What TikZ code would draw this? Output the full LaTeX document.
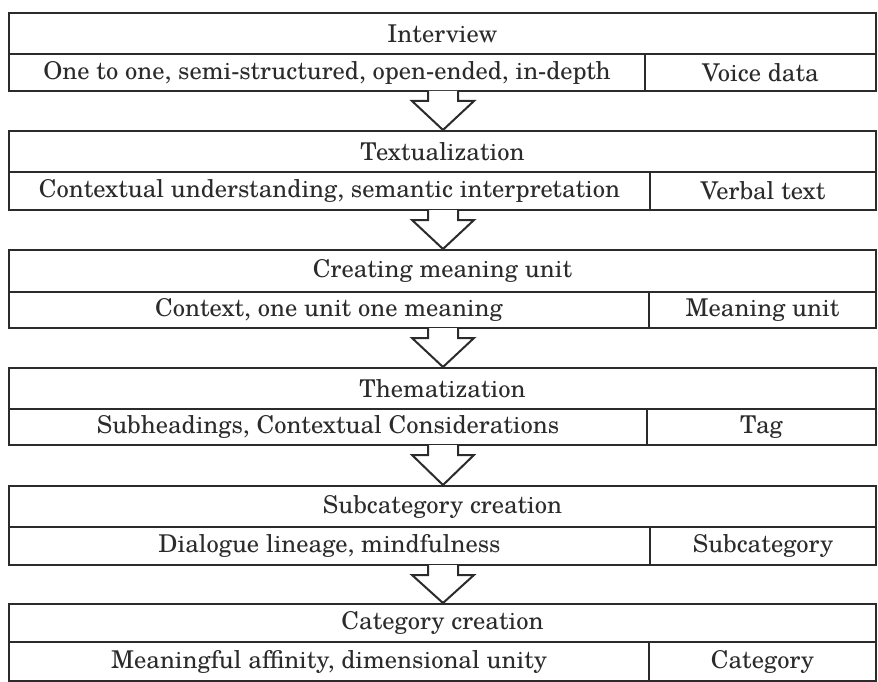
\documentclass[tikz,border=0pt]{standalone}
\usepackage{fontspec}
\setmainfont{TeX Gyre Schola}
\usetikzlibrary{calc}
\definecolor{ink}{HTML}{2B2B2B}
\begin{document}
\begin{tikzpicture}[x=1pt,y=1pt,
  cell/.style={draw=ink, line width=2pt, anchor=north west, inner sep=0pt,
    font=\fontsize{24.5}{29}\selectfont, text=ink},
  flowarrow/.style={draw=ink, line width=2pt, fill=white, line join=miter}]
\useasboundingbox (0,0) rectangle (878,-682);
\foreach \i/\t/\m/\b/\d/\ttl/\lft/\rgt in {
  1/12/53/90/644/{Interview}/{One to one, semi-structured, open-ended, in-depth}/{Voice data},
  2/130/171/209/649/{Textualization}/{Contextual understanding, semantic interpretation}/{Verbal text},
  3/249/291/327/648/{Creating meaning unit}/{Context, one unit one meaning}/{Meaning unit},
  4/367/408/444/646/{Thematization}/{Subheadings, Contextual Considerations}/{Tag},
  5/485/526/564/649/{Subcategory creation}/{Dialogue lineage, mindfulness}/{Subcategory},
  6/603/641/680/648/{Category creation}/{Meaningful affinity, dimensional unity}/{Category}}{
  \pgfmathsetmacro{\hA}{\m-\t}
  \pgfmathsetmacro{\hB}{\b-\m}
  \pgfmathsetmacro{\wL}{\d-8}
  \pgfmathsetmacro{\wR}{875-\d}
  \node[cell, minimum width=867pt, minimum height=\hA pt] (t\i) at (8,-\t) {\ttl};
  \node[cell, minimum width=\wL pt, minimum height=\hB pt] (l\i) at (8,-\m) {\lft};
  \node[cell, minimum width=\wR pt, minimum height=\hB pt] (r\i) at (\d,-\m) {\rgt};
  \coordinate (top\i) at (443,-\t);
  \coordinate (bot\i) at (443,-\b);
}
\foreach \i/\j in {1/2,2/3,3/4,4/5,5/6}{
  \draw[flowarrow] ($(bot\i)+(-15,-1)$) -- ($(bot\i)+(-15,-11)$) -- ($(bot\i)+(-31,-11)$)
    -- (top\j) -- ($(bot\i)+(31,-11)$) -- ($(bot\i)+(15,-11)$) -- ($(bot\i)+(15,-1)$);
}
\end{tikzpicture}
\end{document}
